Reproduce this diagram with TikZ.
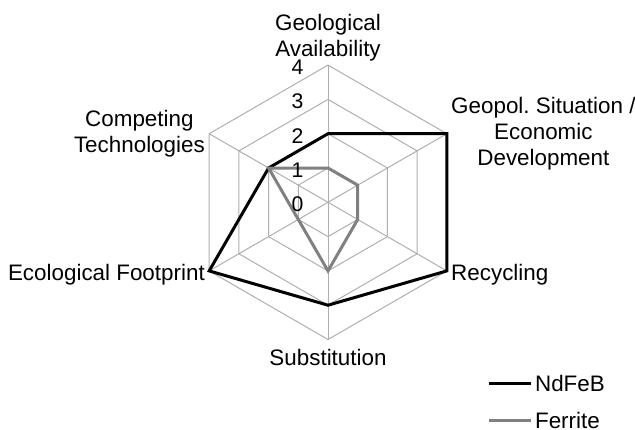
\documentclass[tikz,border=0pt]{standalone}
\usepackage{fontspec}
\setmainfont{Liberation Sans}
\usepackage{xcolor}
\usetikzlibrary{positioning}

\definecolor{gridgray}{RGB}{175,175,175}
\definecolor{ferrite}{RGB}{128,128,128}

\begin{document}
\frenchspacing
\begin{tikzpicture}[x=0.5pt,y=0.5pt,
  every node/.style={font=\fontsize{11.2}{12.8}\selectfont,inner sep=1pt},
  axis label/.style={align=center}
]

\def\lvl{34.3}
\tikzstyle{grid line}=[draw=gridgray,line width=0.5pt]
\tikzset{series/.style={line width=1.5pt,line join=miter}}
\tikzset{tick/.style={font=\fontsize{10.6}{12}\selectfont}}

\useasboundingbox (-328,-226.7) rectangle (307,202.3);

% axis ends
\coordinate (geo)  at (90:4*\lvl);
\coordinate (pol)  at (30:4*\lvl);
\coordinate (rec)  at (-30:4*\lvl);
\coordinate (sub)  at (-90:4*\lvl);
\coordinate (eco)  at (-150:4*\lvl);
\coordinate (comp) at (150:4*\lvl);

% grid
\foreach \k in {1,...,4}
  \draw[grid line] (90:\k*\lvl) -- (30:\k*\lvl) -- (-30:\k*\lvl) -- (-90:\k*\lvl)
    -- (-150:\k*\lvl) -- (150:\k*\lvl) -- cycle;
\foreach \ax in {geo,pol,rec,sub,eco,comp}
  \draw[grid line] (0,0) -- (\ax);

% series
\draw[series] (90:2*\lvl) -- (30:4*\lvl) -- (-30:4*\lvl) -- (-90:3*\lvl)
  -- (-150:4*\lvl) -- (150:2*\lvl) -- cycle;
\draw[series,ferrite] (90:\lvl) -- (30:\lvl) -- (-30:\lvl) -- (-90:2*\lvl)
  -- (-150:\lvl) -- (150:2*\lvl) -- cycle;

% scale
\foreach \k in {0,...,4}
  \node[tick] (t\k) at (-30.5,\k*\lvl-2) {\k};

% axis labels
\node[axis label,above=0.8pt of geo] (geolab) {Geological\\Availability};
\node[axis label,right=1pt of pol] (pollab) {Geopol.\ Situation /\\Economic\\Development};
\node[right=1pt of rec,yshift=-2pt] (reclab) {Recycling};
\node[below=3.5pt of sub] (sublab) {Substitution};
\node[left=1pt of eco,yshift=-2pt] (ecolab) {Ecological Footprint};
\node[axis label,left=1pt of comp] (complab) {Competing\\Technologies};

% legend
\coordinate (ndkey a) at (161.3,-181);
\coordinate (ndkey b) at (202.7,-181);
\draw[series] (ndkey a) -- (ndkey b);
\node[right=1pt of ndkey b] (ndlab) {NdFeB};

\coordinate (fekey a) at (161.3,-217.7);
\coordinate (fekey b) at (202.7,-217.7);
\draw[series,ferrite] (fekey a) -- (fekey b);
\node[right=1pt of fekey b] (felab) {Ferrite};

\end{tikzpicture}
\end{document}
